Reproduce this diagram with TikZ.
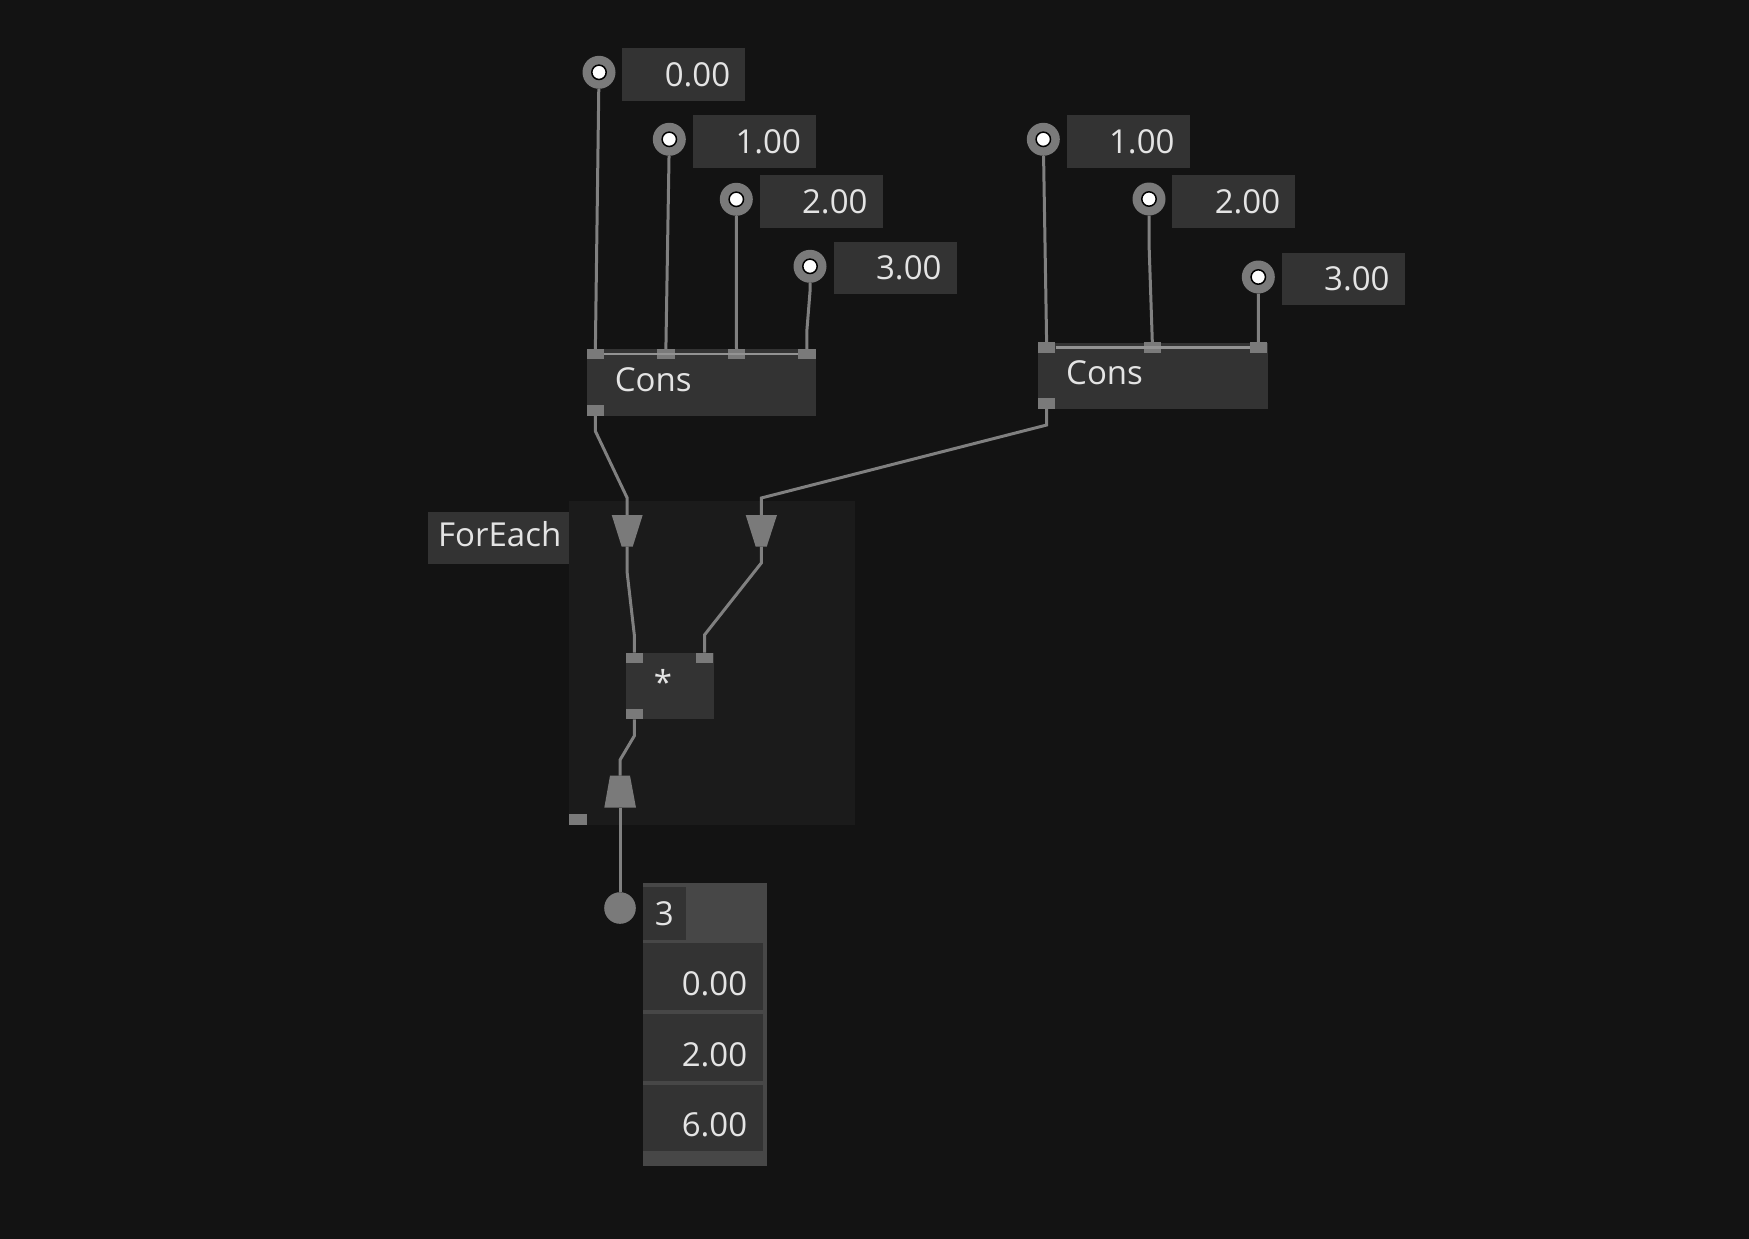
\documentclass[tikz,border=0pt]{standalone}
\usepackage{fontspec}
\setmainfont{Open Sans}
\definecolor{bg}{HTML}{131313}
\definecolor{framefill}{HTML}{1B1B1B}
\definecolor{boxfill}{HTML}{333333}
\definecolor{listfill}{HTML}{474747}
\definecolor{portgray}{HTML}{7A7A7A}
\definecolor{wiregray}{HTML}{808080}
\definecolor{txt}{HTML}{E4E4E4}
\tikzset{
  wire/.style={draw=wiregray, line width=3pt},
  port/.style={fill=portgray, minimum width=17.4pt, minimum height=10.4pt, inner sep=0pt},
  src/.style={circle, fill=portgray, minimum size=33pt, inner sep=0pt,
    path picture={\fill[white, draw=black, line width=1.5pt] (path picture bounding box.center) circle (7.2pt);}},
  valbox/.style={fill=boxfill, anchor=north west, text=txt, font=\fontsize{33}{33}\selectfont,
    text width=93pt, inner xsep=15pt, inner ysep=0pt, minimum height=52.5pt, align=right},
  rowbox/.style={valbox, text width=88pt, inner xsep=16pt, minimum height=67pt,
    text height=37pt, text depth=0pt},
  opbox/.style={fill=boxfill, anchor=north west, text=txt, font=\fontsize{33}{33}\selectfont,
    text width=173pt, inner xsep=28pt, inner ysep=0pt, minimum height=66.6pt, align=left,
    text height=23.6pt, text depth=6.3pt},
}
\begin{document}
\begin{tikzpicture}[x=1pt, y=-1pt]
  \fill[bg] (0,0) rectangle (1749,1239);
  \useasboundingbox (0,0) rectangle (1749,1239);

  % first list
  \node[src] (s00) at (599,72.3) {};
  \node[valbox] (v00) at (622,48) {0.00};
  \node[src] (s10) at (669.3,139.3) {};
  \node[valbox] (v10) at (692.7,115) {1.00};
  \node[src] (s20) at (736.3,199.3) {};
  \node[valbox] (v20) at (759.3,175) {2.00};
  \node[src] (s30) at (810,266.3) {};
  \node[valbox] (v30) at (833.3,241.7) {3.00};

  \node[opbox] (cons1) at (586.7,349) {Cons};
  \node[port] (c1i1) at (595.3,354.2) {};
  \node[port] (c1i2) at (665.8,354.2) {};
  \node[port] (c1i3) at (736.5,354.2) {};
  \node[port] (c1i4) at (806.8,354.2) {};
  \node[port] (c1o) at (595.3,410.5) {};
  \draw[draw=wiregray!85, line width=2.5pt] (c1i1) -- (c1i4);

  % second list
  \node[src] (t10) at (1043.3,139.3) {};
  \node[valbox] (w10) at (1066.3,115) {1.00};
  \node[src] (t20) at (1149,199) {};
  \node[valbox] (w20) at (1172,175) {2.00};
  \node[src] (t30) at (1258.3,277) {};
  \node[valbox] (w30) at (1281.3,252.3) {3.00};

  \node[opbox, text width=173.3pt, minimum height=66.4pt] (cons2) at (1038,342.3) {Cons};
  \node[port] (c2i1) at (1046.7,347.5) {};
  \node[port] (c2i2) at (1152.5,347.5) {};
  \node[port] (c2i3) at (1258.5,347.5) {};
  \node[port] (c2o) at (1046.7,403.3) {};
  \draw[draw=wiregray!85, line width=2.5pt] (c2i1) -- (c2i3);

  % ForEach
  \fill[framefill] (569.3,500.7) rectangle (855,825);
  \node[opbox, text width=121pt, inner xsep=10pt, minimum height=52.3pt, text depth=7pt] (fe) at (428,511.7) {ForEach};
  \fill[portgray] (611.7,515) -- (642.7,515) -- (632.7,546.7) -- (621.7,546.7) -- cycle;
  \coordinate (f1t) at (627.2,515);
  \coordinate (f1b) at (627.2,546.7);
  \fill[portgray] (745.7,515) -- (777,515) -- (766.7,546.7) -- (755.7,546.7) -- cycle;
  \coordinate (f2t) at (761.3,515);
  \coordinate (f2b) at (761.3,546.7);
  \fill[portgray] (610,775.7) -- (630,775.7) -- (636,807.7) -- (604.3,807.7) -- cycle;
  \coordinate (f3t) at (620,775.7);
  \coordinate (f3b) at (620,807.7);
  \node[port] (fo) at (578,819.5) {};

  \node[opbox, text width=31.6pt, minimum width=87.6pt, minimum height=66.3pt] (mul) at (625.7,652.7) {*};
  \node[port] (m1) at (634.3,657.9) {};
  \node[port] (m2) at (704.6,657.9) {};
  \node[port] (mo) at (634.3,713.9) {};

  % result
  \node[circle, fill=portgray, minimum size=31.6pt, inner sep=0pt] (out) at (620,908) {};
  \node[fill=listfill, anchor=north west, minimum width=124pt, minimum height=282.7pt, inner sep=0pt] (lst) at (643,883) {};
  \node[fill=boxfill, anchor=north west, minimum width=42.3pt, minimum height=53pt, inner sep=0pt,
    text=txt, font=\fontsize{33}{33}\selectfont] (len) at (643,887) {3};
  \node[rowbox] (r0) at (643,943) {0.00};
  \node[rowbox] (r1) at (643,1014) {2.00};
  \node[rowbox, minimum height=66.3pt] (r2) at (643,1084.7) {6.00};

  % wires
  \draw[wire] (s00) -- (c1i1);
  \draw[wire] (s10) -- (c1i2);
  \draw[wire] (s20) -- (c1i3);
  \draw[wire] (s30) -- ++(0,25.4) -- ([yshift=17.3pt]c1i4.north) -- (c1i4);
  \draw[wire] (t10) -- (c2i1);
  \draw[wire] (t20) -- ++(0,44) -- (c2i2);
  \draw[wire] (t30) -- (c2i3);
  \draw[wire] (c1o) -- ++(0,20.5) -- ([yshift=17pt]f1t) -- (f1t);
  \draw[wire] (c2o) -- ++(0,21.7) -- ([yshift=17pt]f2t) -- (f2t);
  \draw[wire] (f1b) -- ++(0,26.3) -- ([yshift=17.7pt]m1.north) -- (m1);
  \draw[wire] (f2b) -- ++(0,16.3) -- ([yshift=17.7pt]m2.north) -- (m2);
  \draw[wire] (mo) -- ++(0,22) -- ([yshift=15.7pt]f3t) -- (f3t);
  \draw[wire] (f3b) -- (out);
\end{tikzpicture}
\end{document}
